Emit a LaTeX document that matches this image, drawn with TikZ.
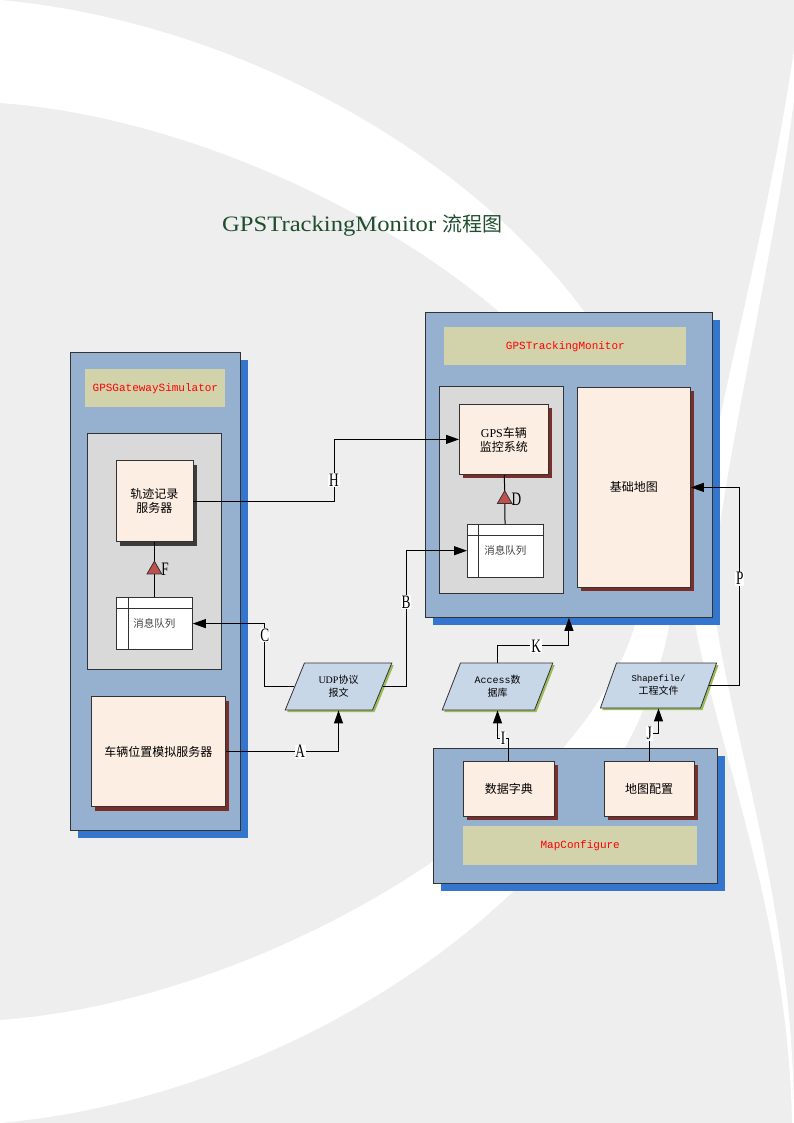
\documentclass[tikz,border=0pt]{standalone}
\usepackage{fontspec}
\setmainfont{Liberation Serif}
\newfontfamily\cjk{Noto Sans CJK SC}
\newfontfamily\mono{Liberation Mono}
\newfontfamily\titlefont[FakeStretch=1.12]{Liberation Serif}
\newfontfamily\lblfont[FakeStretch=0.7]{Liberation Serif}
\usepackage{xcolor}
\usetikzlibrary{arrows.meta,positioning,shapes.geometric,calc,shadows}

\definecolor{bggray}{RGB}{238,238,238}
\definecolor{contblue}{RGB}{150,176,207}
\definecolor{shadblue}{RGB}{52,118,205}
\definecolor{bandkhaki}{RGB}{211,211,171}
\definecolor{panegray}{RGB}{217,217,217}
\definecolor{peach}{RGB}{253,238,228}
\definecolor{shadred}{RGB}{122,46,40}
\definecolor{shadgray}{RGB}{60,60,60}
\definecolor{datablue}{RGB}{200,215,232}
\definecolor{shadgreen}{RGB}{155,187,89}
\definecolor{trired}{RGB}{192,80,77}
\definecolor{titlegreen}{RGB}{30,78,45}

\begin{document}
\begin{tikzpicture}[
    x=1pt, y=-1pt,
    cont/.style={draw=black!80, fill=contblue, line width=0.8pt, inner sep=0pt,
        drop shadow={shadow xshift=8pt, shadow yshift=-8pt, fill=shadblue, opacity=1}},
    band/.style={fill=bandkhaki, text=red, inner sep=0pt, font=\mono\fontsize{11}{13}\selectfont},
    pane/.style={draw=black!80, fill=panegray, line width=0.8pt, inner sep=0pt},
    svr/.style={draw=black!80, fill=peach, line width=0.8pt, inner sep=0pt, align=center,
        font=\cjk\fontsize{12}{14}\selectfont,
        drop shadow={shadow xshift=4pt, shadow yshift=-4pt, fill=#1, opacity=1}},
    svr/.default=shadred,
    queue/.style={draw=black!80, fill=white, line width=0.8pt, inner sep=0pt, text=black!75,
        font=\cjk\fontsize{10.5}{12}\selectfont, minimum width=76pt},
    data/.style={trapezium, trapezium left angle=63, trapezium right angle=117, trapezium stretches=true,
        draw=black!80, fill=datablue, line width=0.8pt, inner sep=0pt, align=center,
        font=\cjk\fontsize{10}{13}\selectfont,
        drop shadow={shadow xshift=2pt, shadow yshift=-2pt, fill=shadgreen, opacity=1}},
    tri/.style={regular polygon, regular polygon sides=3, minimum size=17pt, inner sep=0pt,
        draw=black!80, fill=trired, line width=0.8pt},
    arr/.style={-{Triangle[length=13pt, width=9pt]}, line width=1pt},
    lbl/.style={fill=white, inner sep=0.8pt, font=\lblfont\fontsize{19}{19}\selectfont},
    marklbl/.style={font=\lblfont\fontsize{19}{19}\selectfont, inner sep=1pt}
]
    % Page background and swooshes
    \fill[bggray] (0,0) rectangle (794,1123);
    \useasboundingbox (0,0) rectangle (794,1123);
    \fill[white] (0,0) .. controls (330,30) and (675,280) .. (675,561.5)
        .. controls (675,843) and (330,1093) .. (0,1123) -- (0,1020)
        .. controls (280,1000) and (645,780) .. (645,561.5)
        .. controls (645,343) and (280,123) .. (0,103) -- cycle;
    \fill[white] (794,50) .. controls (765,250) and (700,470) .. (690,590)
        .. controls (705,720) and (788,900) .. (792,1123) -- (794,1123)
        .. controls (794,900) and (725,720) .. (712,590)
        .. controls (722,470) and (775,250) .. (794,100) -- cycle;

    % Title
    \node[anchor=base west, text=titlegreen, inner sep=0pt] (title) at (222,232)
        {\titlefont\fontsize{22}{24}\selectfont GPSTrackingMonitor {\cjk\fontsize{20}{24}\selectfont 流程图}};

    % GPSGatewaySimulator
    \node[cont, minimum width=170pt, minimum height=478pt, anchor=north west] (gws) at (70,352) {};
    \node[band, minimum width=140pt, minimum height=38pt, below=17pt of gws.north] (gwsband) {GPSGatewaySimulator};
    \node[pane, minimum width=134pt, minimum height=236pt, below=26pt of gwsband, xshift=-1pt] (gwspane) {};
    \node[svr=shadgray, minimum width=77pt, minimum height=81pt, below=27pt of gwspane.north] (srv1) {轨迹记录\\服务器};
    \node[queue, minimum height=52pt, below=55pt of srv1] (q1) {消息队列};
    \draw[line width=0.8pt, black!80] ([yshift=-11pt]q1.north west) -- ([yshift=-11pt]q1.north east);
    \draw[line width=0.8pt, black!80] ([xshift=12pt]q1.north west) -- ([xshift=12pt]q1.south west);
    \draw[line width=1pt] (q1) -- node[tri, label={[marklbl]east:F}] (f) {} (srv1);
    \node[svr, minimum width=134pt, minimum height=110pt, below=26pt of gwspane, xshift=4pt] (sim) {车辆位置模拟服务器};

    % GPSTrackingMonitor
    \node[cont, minimum width=287pt, minimum height=305pt, anchor=north west] (gtm) at (425,312) {};
    \node[band, minimum width=242pt, minimum height=38pt, below=15pt of gtm.north, xshift=-3.5pt] (gtmband) {GPSTrackingMonitor};
    \node[pane, minimum width=124pt, minimum height=207pt, anchor=north west] (gtmpane) at (439,386) {};
    \node[svr, minimum width=89pt, minimum height=70pt, below=18pt of gtmpane.north, xshift=2.5pt] (srv2) {{\rmfamily GPS}车辆\\监控系统};
    \node[queue, minimum height=53pt, below=49pt of srv2, xshift=1.5pt] (q2) {消息队列};
    \draw[line width=0.8pt, black!80] ([yshift=-12pt]q2.north west) -- ([yshift=-12pt]q2.north east);
    \draw[line width=0.8pt, black!80] ([xshift=11pt]q2.north west) -- ([xshift=11pt]q2.south west);
    \draw[line width=1pt] (q2) -- node[tri, label={[marklbl]east:D}] (d) {} (srv2);
    \node[svr, minimum width=113pt, minimum height=200pt, anchor=north west] (basemap) at (577,387) {基础地图};

    % Data files
    \node[data, minimum width=107pt, minimum height=47pt] (udp) at (338.5,686.5) {{\rmfamily UDP}协议\\报文};
    \node[data, minimum width=111pt, minimum height=47pt] (acc) at (497.5,686.5) {{\mono Access}数\\据库};
    \node[data, minimum width=117pt, minimum height=45pt] (shp) at (658.5,685.5) {{\mono\fontsize{9}{13}\selectfont Shapefile/}\\工程文件};

    % MapConfigure
    \node[cont, minimum width=284pt, minimum height=135pt, anchor=north west] (mc) at (433,748) {};
    \node[svr, minimum width=91pt, minimum height=55pt, anchor=north west] (dict) at (463,761) {数据字典};
    \node[svr, minimum width=90pt, minimum height=55pt, right=49pt of dict] (mapcfg) {地图配置};
    \node[band, minimum width=234pt, minimum height=39pt, anchor=north west] (mcband) at (463,826) {MapConfigure};

    % Flows
    \draw[arr] (sim.east) -| node[lbl, pos=0.33] {A} (udp.south);
    \draw[arr] (udp.east) -| node[lbl, pos=0.81] {B} ($(q2.west)+(-61,0)$) -- (q2.west);
    \draw[arr] (udp.west) -| node[lbl, pos=0.91] {C} ($(q1.east)+(72,0)$) -- (q1.east);
    \draw[arr] (srv1.east) -| node[lbl, pos=0.67] {H} ($(srv2.west)+(-125,0)$) -- (srv2.west);
    \draw[arr] (acc.north) |- node[lbl, pos=0.77] {K} ($(gtm.south)+(0,28)$) -- (gtm.south);
    \draw[arr] (dict.north) |- node[lbl, pos=0.75] {I} ($(acc.south)+(0,28)$) -- (acc.south);
    \draw[arr] (mapcfg.north) |- node[lbl, pos=0.5] {J} ($(shp.south)+(0,25)$) -- (shp.south);
    \draw[arr] (shp.east) -| node[lbl, pos=0.77] {P} ($(basemap.east)+(49,0)$) -- (basemap.east);
\end{tikzpicture}
\end{document}
